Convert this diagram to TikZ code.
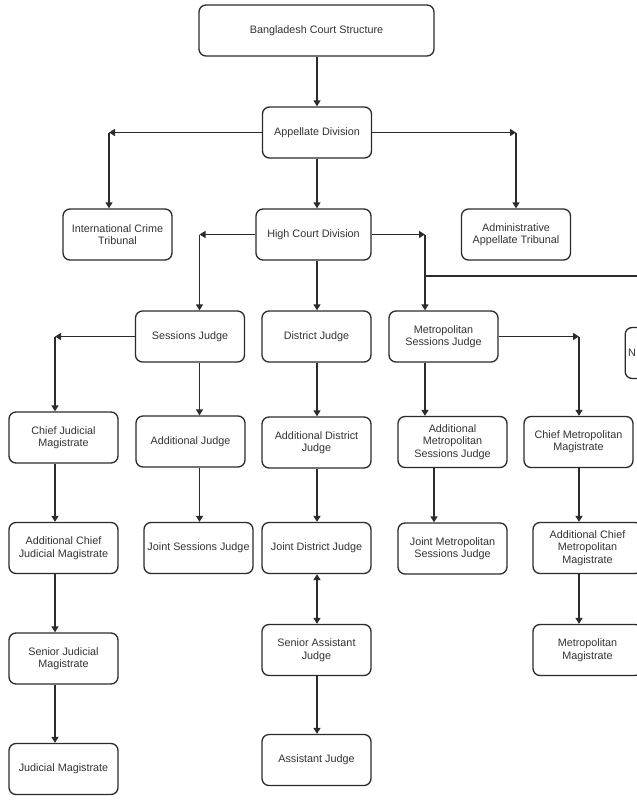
\documentclass[tikz,border=0pt]{standalone}
\usepackage{fontspec}
\setmainfont{Liberation Sans}
\usetikzlibrary{arrows.meta}
\definecolor{linec}{HTML}{2B2B2B}
\definecolor{txtc}{HTML}{333333}
\begin{document}
\begin{tikzpicture}[x=1pt,y=-1pt,
  box/.style={draw=linec, line width=1.3pt, rounded corners=7pt, minimum width=109pt, minimum height=51pt,
    align=center, font=\fontsize{10.8}{12.4}\selectfont, text=txtc, inner sep=1pt, fill=white},
  arr/.style={line width=1.3pt, draw=linec, -{Triangle[length=6pt,width=7pt]}},
  darr/.style={line width=1.3pt, draw=linec, {Triangle[length=6pt,width=7pt]}-{Triangle[length=6pt,width=7pt]}},
  plain/.style={line width=1.3pt, draw=linec}]
\useasboundingbox (0,0) rectangle (637,809);
\clip (0,0) rectangle (637,809);
% nodes
\node[box, minimum width=235pt] (top) at (316.5,30.5) {Bangladesh Court Structure};
\node[box] (app) at (317,132.5) {Appellate Division};
\node[box] (ict) at (117.5,234.5) {International Crime\\Tribunal};
\node[box, minimum width=115pt] (hcd) at (313.5,234.5) {High Court Division};
\node[box] (aat) at (516,234.5) {Administrative\\Appellate Tribunal};
\node[box] (ses) at (190,336.5) {Sessions Judge};
\node[box] (dis) at (316.5,336.5) {District Judge};
\node[box] (msj) at (443.5,336.5) {Metropolitan\\Sessions Judge};
\node[box, anchor=west, text width=103pt, align=left, inner xsep=3pt] (nat) at (624.5,353) {N};
\node[box] (cjm) at (63.5,437.5) {Chief Judicial\\Magistrate};
\node[box] (adj) at (190.5,441.5) {Additional Judge};
\node[box] (adis) at (316.5,442.5) {Additional District\\Judge};
\node[box] (amsj) at (452.5,442) {Additional\\Metropolitan\\Sessions Judge};
\node[box] (cmm) at (578.5,442) {Chief Metropolitan\\Magistrate};
\node[box] (acjm) at (63.5,548) {Additional Chief\\Judicial Magistrate};
\node[box] (jsj) at (198.5,548) {Joint Sessions Judge};
\node[box] (jdj) at (316.5,548) {Joint District Judge};
\node[box] (jmsj) at (452.5,548.5) {Joint Metropolitan\\Sessions Judge};
\node[box] (acmm) at (587.5,548) {Additional Chief\\Metropolitan\\Magistrate};
\node[box] (sjm) at (63.5,658.5) {Senior Judicial\\Magistrate};
\node[box] (saj) at (316.5,650) {Senior Assistant\\Judge};
\node[box] (mm) at (587.5,650) {Metropolitan\\Magistrate};
\node[box] (jm) at (63.5,769) {Judicial Magistrate};
\node[box] (aj) at (316.5,760) {Assistant Judge};
% bend coordinates
\coordinate (c1) at (109,132.5);
\coordinate (c2) at (516,132.5);
\coordinate (c3) at (199.5,234.5);
\coordinate (c4) at (425,234.5);
\coordinate (c5) at (425,276);
\coordinate (c6) at (640,276);
\coordinate (c7) at (55,336.5);
\coordinate (c9) at (579,336.5);
\coordinate (m3) at (434,500);
\coordinate (mid) at (317,0);
% connectors
\draw[arr] (mid |- top.south) -- (mid |- app.north);
\draw[arr] (app.west) -- (c1);
\draw[arr] (c1) -- (c1 |- ict.north);
\draw[arr] (app.east) -- (c2);
\draw[arr] (c2) -- (c2 |- aat.north);
\draw[arr] (mid |- app.south) -- (mid |- hcd.north);
\draw[arr] (hcd.west) -- (c3);
\draw[arr] (c3) -- (c3 |- ses.north);
\draw[arr] (mid |- hcd.south) -- (mid |- dis.north);
\draw[arr] (hcd.east) -- (c4);
\draw[arr] (c4) -- (c4 |- msj.north);
\draw[plain] (c5) -- (c6);
\draw[arr] (ses.west) -- (c7);
\draw[arr] (c7) -- (c7 |- cjm.north);
\draw[arr] (c3 |- ses.south) -- (c3 |- adj.north);
\draw[arr] (mid |- dis.south) -- (mid |- adis.north);
\draw[arr] (c4 |- msj.south) -- (c4 |- amsj.north);
\draw[arr] (msj.east) -- (c9);
\draw[arr] (c9) -- (c9 |- cmm.north);
\draw[arr] (c7 |- cjm.south) -- (c7 |- acjm.north);
\draw[arr] (c3 |- adj.south) -- (c3 |- jsj.north);
\draw[arr] (mid |- adis.south) -- (mid |- jdj.north);
\draw[arr] (m3 |- amsj.south) -- (m3 |- jmsj.north);
\draw[arr] (c9 |- cmm.south) -- (c9 |- acmm.north);
\draw[arr] (c7 |- acjm.south) -- (c7 |- sjm.north);
\draw[darr] (mid |- jdj.south) -- (mid |- saj.north);
\draw[arr] (c9 |- acmm.south) -- (c9 |- mm.north);
\draw[arr] (c7 |- sjm.south) -- (c7 |- jm.north);
\draw[arr] (mid |- saj.south) -- (mid |- aj.north);
\end{tikzpicture}
\end{document}
